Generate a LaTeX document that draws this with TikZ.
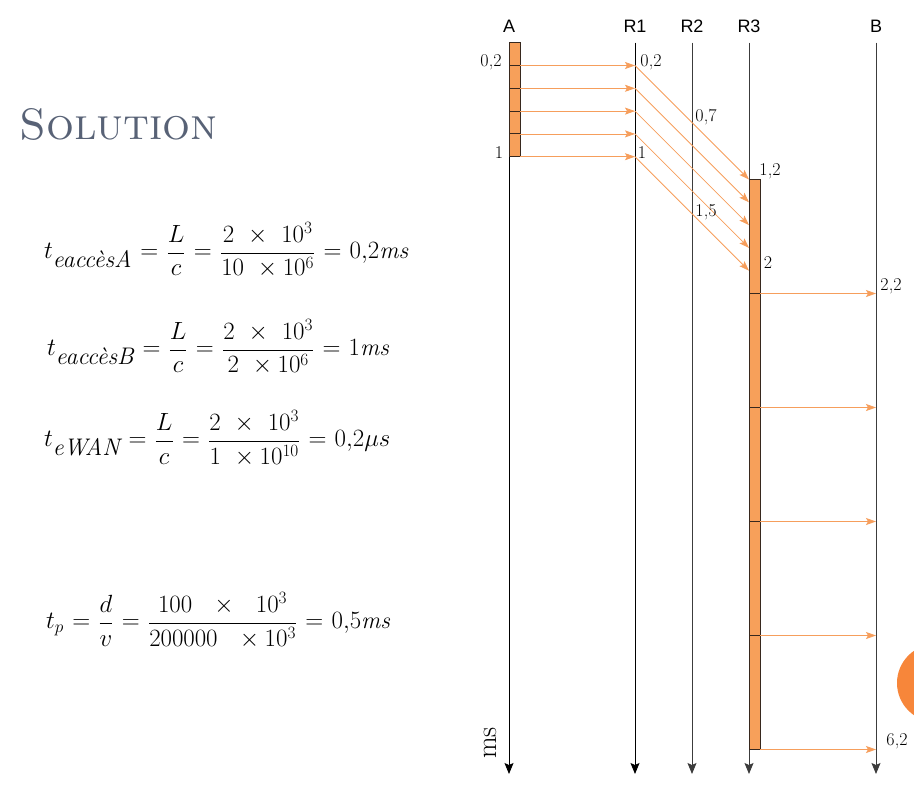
\documentclass[tikz,border=0pt]{standalone}
\usepackage{fontspec}
\newfontfamily\lblfont{Liberation Sans}
\usetikzlibrary{arrows.meta}
\definecolor{arrorange}{RGB}{246,158,92}
\definecolor{boxorange}{RGB}{247,160,90}
\definecolor{titlegray}{RGB}{88,98,118}
\definecolor{dotorange}{RGB}{247,134,58}
\definecolor{linegray}{RGB}{60,60,60}
\definecolor{boxedge}{RGB}{55,40,30}
\tikzset{
  timeline/.style={draw=#1, line width=0.9pt, -{Stealth[length=11pt,width=9pt,inset=2pt]}},
  msg/.style={draw=arrorange, line width=0.8pt, -{Stealth[length=10pt,width=7pt,inset=2pt]}},
  slot/.style={draw=boxedge, fill=boxorange, line width=0.9pt},
  hdr/.style={font=\lblfont\fontsize{18}{20}\selectfont, inner sep=0pt},
  tlabel/.style={font=\fontsize{18}{20}\selectfont, inner sep=0pt},
  eqn/.style={anchor=west, inner sep=0pt, font=\fontsize{24}{29}\selectfont},
}
\begin{document}
\begin{tikzpicture}[x=1pt,y=-1pt]
\useasboundingbox (0,0) rectangle (914,790);
% orange dot at the right edge
\fill[dotorange] (936,683) circle (39);
% title
\node[anchor=west, inner sep=0pt, text=titlegray, font=\fontsize{44}{50}\selectfont] (title) at (19,124) {\textsc{Solution}};
% equations
\thickmuskip=6mu plus 2mu
\node[eqn] (eqA) at (44,250) {$\displaystyle t_{\textit{eaccèsA}} = \frac{L}{c} = \frac{2\;\times\;10^{3}}{10\;\times 10^{6}} = 0{,}2\mathit{ms}$};
\node[eqn] (eqB) at (47,347) {$\displaystyle t_{\textit{eaccèsB}} = \frac{L}{c} = \frac{2\;\times\;10^{3}}{2\;\times 10^{6}} = 1\mathit{ms}$};
\node[eqn] (eqW) at (44,438) {$\displaystyle t_{\textit{eWAN}} = \frac{L}{c} = \frac{2\;\times\;10^{3}}{1\;\times 10^{10}} = 0{,}2\mu s$};
\node[eqn] (eqP) at (46,620) {$\displaystyle t_{p} = \frac{d}{v} = \frac{100\;\;\times\;\;10^{3}}{200000\;\;\times 10^{3}} = 0{,}5\mathit{ms}$};
% headers
\node[hdr] (hA) at (509,26) {A};
\node[hdr] (hR1) at (635,26) {R1};
\node[hdr] (hR2) at (692,26) {R2};
\node[hdr] (hR3) at (749,26) {R3};
\node[hdr] (hB) at (876,26) {B};
% timeline coordinates
\coordinate (Atop) at (509,42.7);  \coordinate (Abot) at (509,774);
\coordinate (R1top) at (635,42.7); \coordinate (R1bot) at (635,774);
\coordinate (R2top) at (692,42.7); \coordinate (R2bot) at (692,774);
\coordinate (R3top) at (749,42.7); \coordinate (R3bot) at (749,774);
\coordinate (Btop) at (876,42.7);  \coordinate (Bbot) at (876,774);
\draw[timeline=black] (Atop) -- (Abot);
\draw[timeline=black] (R1top) -- (R1bot);
\draw[timeline=linegray] (R2top) -- (R2bot);
\draw[timeline=linegray] (R3top) -- (R3bot);
\draw[timeline=linegray] (Btop) -- (Bbot);
% A transmission slots (0 .. 1 ms)
\foreach \i/\ya/\yb in {1/42.7/65.5, 2/65.5/88.3, 3/88.3/111.1, 4/111.1/133.9, 5/133.9/156.7}{
  \node[slot, minimum width=11pt, minimum height=22.8pt, inner sep=0pt] (sa\i) at (514.5,{(\ya+\yb)/2}) {};
}
% R3 transmission slots (1.2 .. 6.2 ms)
\node[slot, minimum width=11pt, minimum height=114pt, inner sep=0pt] (sr1) at (754.5,236.5) {};
\foreach \i/\ya in {2/293.5, 3/407.5, 4/521.5, 5/635.5}{
  \node[slot, minimum width=11pt, minimum height=114pt, inner sep=0pt] (sr\i) at (754.5,{\ya+57}) {};
}
% A -> R1
\foreach \i/\y in {1/65.5, 2/88.3, 3/111.1, 4/133.9, 5/156.7}{
  \coordinate (aout\i) at (520,\y);
  \coordinate (r1in\i) at (635,\y);
  \draw[msg] (aout\i) -- (r1in\i);
}
% R1 -> R3
\foreach \i/\y in {1/179.5, 2/202.3, 3/225.1, 4/247.9, 5/270.7}{
  \coordinate (r3in\i) at (749,\y);
  \draw[msg] (r1in\i) -- (r3in\i);
}
% R3 -> B
\foreach \i/\y in {1/293.5, 2/407.5, 3/521.5, 4/635.5, 5/749.5}{
  \coordinate (r3out\i) at (760,\y);
  \coordinate (bin\i) at (876,\y);
  \draw[msg] (r3out\i) -- (bin\i);
}
% time labels
\node[tlabel] (l1) at (491,62) {0,2};
\node[tlabel] (l2) at (499,153) {1};
\node[tlabel] (l3) at (651,62) {0,2};
\node[tlabel] (l4) at (642,153) {1};
\node[tlabel] (l5) at (706,117) {0,7};
\node[tlabel] (l6) at (706,212) {1,5};
\node[tlabel] (l7) at (770,171) {1,2};
\node[tlabel] (l8) at (768,263) {2};
\node[tlabel] (l9) at (891,286) {2,2};
\node[tlabel] (l10) at (897,741) {6,2};
\node[inner sep=0pt, rotate=90, font=\fontsize{28}{32}\selectfont] (ms) at (490,743) {ms};
\end{tikzpicture}
\end{document}
